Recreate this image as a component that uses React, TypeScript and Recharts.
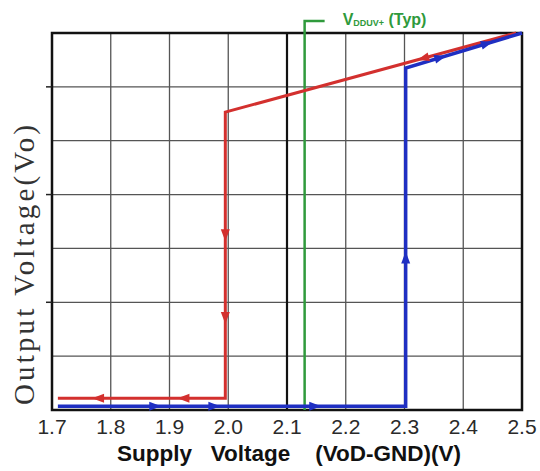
import {
  ComposedChart,
  Line,
  Scatter,
  XAxis,
  YAxis,
  CartesianGrid,
  ReferenceLine,
  ReferenceArea,
  Label,
} from "recharts";

// supply voltage ticks (V) and output voltage grid (arbitrary units)
const xTicks = [1.7, 1.8, 1.9, 2.0, 2.1, 2.2, 2.3, 2.4, 2.5];
const yGrid = [0, 1, 2, 3, 4, 5, 6, 7];
const yMarks = [2, 4, 6];

// falling supply (red) and rising supply (blue) traces
const redPath = [
  { v: 2.49, vo: 7.0 },
  { v: 1.995, vo: 5.53 },
  { v: 1.995, vo: 0.22 },
  { v: 1.71, vo: 0.22 },
];
const bluePath = [
  { v: 1.71, vo: 0.07 },
  { v: 2.302, vo: 0.07 },
  { v: 2.302, vo: 6.35 },
  { v: 2.5, vo: 7.0 },
];

// arrow heads: segment index + fraction along it
const redArrowMarks = [
  { seg: 0, t: 0.32 },
  { seg: 1, t: 0.43 },
  { seg: 1, t: 0.72 },
  { seg: 2, t: 0.25 },
  { seg: 2, t: 0.76 },
];
const blueArrowMarks = [
  { seg: 0, t: 0.28 },
  { seg: 0, t: 0.45 },
  { seg: 0, t: 0.74 },
  { seg: 1, t: 0.44 },
  { seg: 2, t: 0.3 },
  { seg: 2, t: 0.7 },
];

const uvloTyp = 2.13;

const W = 540;
const H = 471;
const MARGIN = { top: 33, right: 18, bottom: 0, left: 0 };
const Y_AXIS_W = 52;
const X_AXIS_H = 61;
const PLOT_LEFT = MARGIN.left + Y_AXIS_W;
const PX_PER_V = (W - PLOT_LEFT - MARGIN.right) / (2.5 - 1.7);
const PX_PER_VO = (H - MARGIN.top - X_AXIS_H) / 7;

const RED = "#d3302e";
const BLUE = "#1f2fc2";
const GREEN = "#2f9a3c";

type Pt = { v: number; vo: number };

function arrowsOn(path: Pt[], marks: { seg: number; t: number }[]) {
  return marks.map(({ seg, t }) => {
    const a = path[seg];
    const b = path[seg + 1];
    const dx = (b.v - a.v) * PX_PER_V;
    const dy = -(b.vo - a.vo) * PX_PER_VO;
    return {
      v: a.v + (b.v - a.v) * t,
      vo: a.vo + (b.vo - a.vo) * t,
      ang: (Math.atan2(dy, dx) * 180) / Math.PI,
    };
  });
}

const redArrows = arrowsOn(redPath, redArrowMarks);
const blueArrows = arrowsOn(bluePath, blueArrowMarks);

const arrowShape = (color: string) => (props: any) => {
  const { cx, cy, payload } = props;
  return (
    <polygon
      points="6,0 -6,-4.5 -6,4.5"
      transform={`translate(${cx},${cy}) rotate(${payload.ang})`}
      fill={color}
    />
  );
};

const YTick = (props: any) => {
  const { y, payload } = props;
  if (!yMarks.includes(payload.value)) return <g />;
  return <line x1={PLOT_LEFT - 6} x2={PLOT_LEFT} y1={y} y2={y} stroke="#222" strokeWidth={1.5} />;
};

const UvloMark = (props: any) => {
  const { x, y } = props.viewBox;
  return (
    <g>
      <path
        d={`M${x},${y} V${y - 12} H${x + 20}`}
        stroke={GREEN}
        strokeWidth={2.5}
        fill="none"
      />
      <text
        x={x + 38}
        y={y - 8}
        fill={GREEN}
        fontWeight="bold"
        fontSize={16}
        fontFamily="Liberation Sans, Arial, sans-serif"
      >
        V
        <tspan fontSize={9} dy={1}>
          DDUV+
        </tspan>
        <tspan fontSize={16} dy={-1}>
          {" (Typ)"}
        </tspan>
      </text>
    </g>
  );
};

const XTitle = (props: any) => {
  const { x, y, width } = props.viewBox;
  return (
    <text
      x={x + width / 2 + 2}
      y={y + 51}
      textAnchor="middle"
      fontWeight="bold"
      fontSize={22.5}
      fill="#111"
      fontFamily="Liberation Sans, Arial, sans-serif"
      style={{ whiteSpace: "pre" }}
    >
      {"Supply   Voltage    (VoD-GND)(V)"}
    </text>
  );
};

const YTitle = () => (
  <text
    x={24}
    y={265}
    transform="rotate(-90, 24, 265)"
    textAnchor="middle"
    dominantBaseline="central"
    style={{ fontSize: 29, fontFamily: "'Liberation Serif', serif" }}
    fill="#333"
    textLength={280}
    lengthAdjust="spacing"
  >
    Output Voltage(Vo)
  </text>
);

const App = () => {
  return (
    <div style={{ position: "absolute", left: 0, top: 0, background: "#fff" }}>
      <ComposedChart width={W} height={H} margin={MARGIN}>
        <CartesianGrid stroke="#555" strokeWidth={1.3} />
        <XAxis
          dataKey="v"
          type="number"
          domain={[1.7, 2.5]}
          ticks={xTicks}
          interval={0}
          height={X_AXIS_H}
          axisLine={false}
          tickLine={false}
          tickMargin={3}
          tickFormatter={(v: number) => v.toFixed(1)}
          tick={{ fontSize: 21, fill: "#2a2a2a", fontFamily: "Liberation Sans, Arial, sans-serif" }}
        >
          <Label content={XTitle} />
        </XAxis>
        <YAxis
          dataKey="vo"
          type="number"
          domain={[0, 7]}
          ticks={yGrid}
          interval={0}
          width={Y_AXIS_W}
          axisLine={false}
          tickLine={false}
          tick={YTick}
        >
          <Label content={YTitle} />
        </YAxis>
        <ReferenceLine x={2.1} stroke="#111" strokeWidth={2.2} />
        <ReferenceLine x={uvloTyp} stroke={GREEN} strokeWidth={2.5} label={UvloMark} />
        <ReferenceArea
          x1={1.7}
          x2={2.5}
          y1={0}
          y2={7}
          fill="none"
          fillOpacity={0}
          stroke="#111"
          strokeWidth={2.5}
        />
        <Line
          data={redPath}
          dataKey="vo"
          type="linear"
          stroke={RED}
          strokeWidth={3}
          dot={false}
          isAnimationActive={false}
        />
        <Line
          data={bluePath}
          dataKey="vo"
          type="linear"
          stroke={BLUE}
          strokeWidth={3.5}
          dot={false}
          isAnimationActive={false}
        />
        <Scatter data={redArrows} dataKey="vo" shape={arrowShape(RED)} isAnimationActive={false} />
        <Scatter data={blueArrows} dataKey="vo" shape={arrowShape(BLUE)} isAnimationActive={false} />
      </ComposedChart>
    </div>
  );
};

export default App;
